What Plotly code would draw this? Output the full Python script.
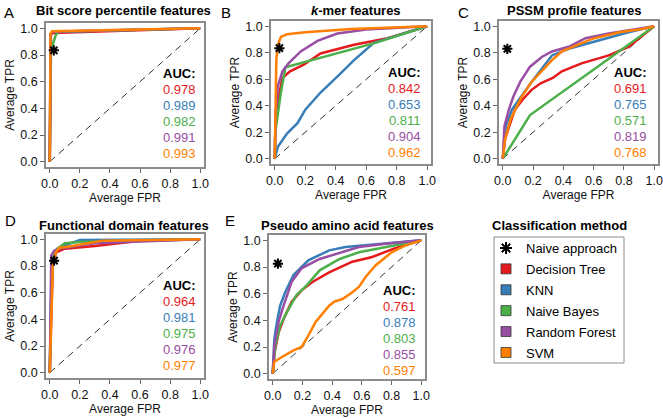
import plotly.graph_objects as go

# ---------------- data ----------------
methods = ["Decision Tree", "KNN", "Naive Bayes", "Random Forest", "SVM"]
colors = ["#E41A1C", "#377EB8", "#4DAF4A", "#984EA3", "#FF7F00"]

panel_titles = ["Bit score percentile features", "<i>k</i>-mer features", "PSSM profile features",
                "Functional domain features", "Pseudo amino acid features"]
panel_letters = ["A", "B", "C", "D", "E"]

auc_A = ["0.978", "0.989", "0.982", "0.991", "0.993"]
auc_B = ["0.842", "0.653", "0.811", "0.904", "0.962"]
auc_C = ["0.691", "0.765", "0.571", "0.819", "0.768"]
auc_D = ["0.964", "0.981", "0.975", "0.976", "0.977"]
auc_E = ["0.761", "0.878", "0.803", "0.855", "0.597"]

# naive approach point (FPR, TPR) per panel
naive_fpr = [0.027, 0.03, 0.03, 0.029, 0.035]
naive_tpr = [0.835, 0.835, 0.83, 0.84, 0.825]

# Panel A ROC curves
A_dt_x = [0, 0.008, 0.02, 1]; A_dt_y = [0, 0.95, 0.965, 1]
A_knn_x = [0, 0.006, 0.02, 1]; A_knn_y = [0, 0.96, 0.975, 1]
A_nb_x = [0, 0.008, 0.02, 0.04, 0.06, 1]; A_nb_y = [0, 0.82, 0.88, 0.95, 0.975, 1]
A_rf_x = [0, 0.006, 0.02, 1]; A_rf_y = [0, 0.96, 0.975, 1]
A_svm_x = [0, 0.005, 0.015, 0.3, 1]; A_svm_y = [0, 0.96, 0.978, 0.985, 1]

# Panel B
B_dt_x = [0, 0.005, 0.05, 0.1, 0.19, 0.3, 0.52, 0.74, 1]
B_dt_y = [0, 0.34, 0.61, 0.66, 0.71, 0.795, 0.86, 0.91, 1]
B_knn_x = [0, 0.02, 0.08, 0.15, 0.2, 0.3, 0.41, 0.52, 0.65, 1]
B_knn_y = [0, 0.09, 0.19, 0.27, 0.37, 0.5, 0.62, 0.745, 0.875, 1]
B_nb_x = [0, 0.003, 0.04, 0.07, 0.66, 1]
B_nb_y = [0, 0.2, 0.5, 0.69, 0.875, 1]
B_rf_x = [0, 0.005, 0.02, 0.05, 0.09, 0.17, 0.28, 0.41, 0.6, 1]
B_rf_y = [0, 0.35, 0.55, 0.66, 0.72, 0.81, 0.89, 0.945, 0.975, 1]
B_svm_x = [0, 0.005, 0.01, 0.02, 0.04, 0.08, 0.2, 0.5, 1]
B_svm_y = [0, 0.5, 0.75, 0.86, 0.92, 0.94, 0.955, 0.98, 1]

# Panel C
C_dt_x = [0, 0.015, 0.05, 0.08, 0.13, 0.19, 0.25, 0.33, 0.39, 0.52, 0.7, 0.83, 1]
C_dt_y = [0, 0.15, 0.27, 0.37, 0.445, 0.52, 0.57, 0.61, 0.66, 0.72, 0.78, 0.845, 1]
C_knn_x = [0, 0.02, 0.06, 0.126, 0.19, 0.325, 0.435, 0.59, 0.83, 1]
C_knn_y = [0, 0.245, 0.37, 0.48, 0.58, 0.78, 0.83, 0.88, 0.955, 1]
C_nb_x = [0, 0.18, 1]
C_nb_y = [0, 0.33, 1]
C_rf_x = [0, 0.011, 0.04, 0.07, 0.115, 0.18, 0.26, 0.325, 0.435, 0.546, 0.7, 0.856, 1]
C_rf_y = [0, 0.245, 0.37, 0.47, 0.58, 0.695, 0.77, 0.81, 0.845, 0.91, 0.945, 0.975, 1]
C_svm_x = [0, 0.015, 0.05, 0.126, 0.19, 0.325, 0.39, 0.52, 0.59, 0.77, 0.92, 1]
C_svm_y = [0, 0.145, 0.295, 0.47, 0.58, 0.745, 0.81, 0.87, 0.905, 0.955, 0.98, 1]

# Panel D
D_dt_x = [0, 0.01, 0.02, 0.04, 0.1, 0.3, 0.45, 0.6, 1]
D_dt_y = [0, 0.5, 0.8, 0.9, 0.93, 0.95, 0.97, 0.99, 1]
D_knn_x = [0, 0.01, 0.02, 0.05, 0.1, 0.2, 1]
D_knn_y = [0, 0.6, 0.85, 0.93, 0.955, 0.995, 1]
D_nb_x = [0, 0.01, 0.02, 0.04, 0.1, 0.2, 1]
D_nb_y = [0, 0.6, 0.85, 0.92, 0.97, 0.98, 1]
D_rf_x = [0, 0.005, 0.01, 0.03, 0.06, 0.3, 1]
D_rf_y = [0, 0.6, 0.88, 0.915, 0.93, 0.97, 1]
D_svm_x = [0, 0.01, 0.02, 0.04, 0.06, 0.15, 0.35, 1]
D_svm_y = [0, 0.5, 0.8, 0.9, 0.935, 0.95, 0.99, 1]

# Panel E
E_dt_x = [0, 0.013, 0.04, 0.073, 0.128, 0.194, 0.27, 0.38, 0.536, 0.67, 0.82, 1]
E_dt_y = [0, 0.16, 0.31, 0.41, 0.54, 0.625, 0.69, 0.76, 0.84, 0.875, 0.94, 1]
E_knn_x = [0, 0.011, 0.029, 0.05, 0.084, 0.14, 0.24, 0.38, 0.49, 0.76, 1]
E_knn_y = [0, 0.26, 0.39, 0.51, 0.61, 0.74, 0.85, 0.925, 0.95, 0.975, 1]
E_nb_x = [0, 0.018, 0.05, 0.095, 0.16, 0.227, 0.316, 0.45, 0.58, 0.76, 1]
E_nb_y = [0, 0.21, 0.36, 0.46, 0.59, 0.66, 0.775, 0.86, 0.91, 0.95, 1]
E_rf_x = [0, 0.011, 0.04, 0.073, 0.128, 0.194, 0.316, 0.43, 0.58, 0.76, 1]
E_rf_y = [0, 0.21, 0.39, 0.51, 0.69, 0.79, 0.86, 0.9, 0.95, 0.975, 1]
E_svm_x = [0, 0.011, 0.062, 0.14, 0.194, 0.227, 0.29, 0.38, 0.415, 0.47, 0.536, 0.58, 0.625, 0.69, 0.8, 0.89, 1]
E_svm_y = [0, 0.09, 0.125, 0.175, 0.2, 0.26, 0.39, 0.51, 0.54, 0.56, 0.61, 0.65, 0.725, 0.81, 0.91, 0.96, 1]

tick_vals = [0, 0.2, 0.4, 0.6, 0.8, 1.0]
tick_text = ["0.0", "0.2", "0.4", "0.6", "0.8", "1.0"]

panels = [
    dict(curves=[(A_dt_x, A_dt_y), (A_knn_x, A_knn_y), (A_nb_x, A_nb_y), (A_rf_x, A_rf_y), (A_svm_x, A_svm_y)], auc=auc_A),
    dict(curves=[(B_dt_x, B_dt_y), (B_knn_x, B_knn_y), (B_nb_x, B_nb_y), (B_rf_x, B_rf_y), (B_svm_x, B_svm_y)], auc=auc_B),
    dict(curves=[(C_dt_x, C_dt_y), (C_knn_x, C_knn_y), (C_nb_x, C_nb_y), (C_rf_x, C_rf_y), (C_svm_x, C_svm_y)], auc=auc_C),
    dict(curves=[(D_dt_x, D_dt_y), (D_knn_x, D_knn_y), (D_nb_x, D_nb_y), (D_rf_x, D_rf_y), (D_svm_x, D_svm_y)], auc=auc_D),
    dict(curves=[(E_dt_x, E_dt_y), (E_knn_x, E_knn_y), (E_nb_x, E_nb_y), (E_rf_x, E_rf_y), (E_svm_x, E_svm_y)], auc=auc_E),
]

# ---------------- layout geometry (pixels) ----------------
W, H = 663, 419
boxes = [(46, 204, 23, 167), (271, 431, 21, 164), (499, 658, 21, 164),
         (46, 204, 234, 378), (269, 425, 235, 379)]
title_pos = [(123, 11), (356, 11), (574, 11), (124, 225), (347, 225)]
letter_pos = [(9, 12), (226, 12), (463, 12), (10, 220), (230, 220)]
auc_x = [0.985, 0.975, 0.965, 0.985, 0.975]
auc_y0 = [0.665, 0.65, 0.65, 0.655, 0.625]
auc_step = 0.12

FONT = "Liberation Sans, Arial, sans-serif"

fig = go.Figure()
annotations = []
shapes = []

for i, p in enumerate(panels):
    ax = "" if i == 0 else str(i + 1)
    xa, ya = "x" + ax, "y" + ax
    fig.add_trace(go.Scatter(x=[0, 1], y=[0, 1], mode="lines", xaxis=xa, yaxis=ya,
                             line=dict(color="#333333", width=1, dash="7px,5px"),
                             showlegend=False, hoverinfo="skip"))
    for (cx, cy), c, m in zip(p["curves"], colors, methods):
        fig.add_trace(go.Scatter(x=cx, y=cy, mode="lines", xaxis=xa, yaxis=ya, name=m,
                                 line=dict(color=c, width=2.5), showlegend=False))
    fig.add_trace(go.Scatter(x=[naive_fpr[i]], y=[naive_tpr[i]], mode="markers", xaxis=xa, yaxis=ya,
                             name="Naive approach",
                             marker=dict(symbol="asterisk-open", size=8.5, color="black",
                                         line=dict(color="black", width=2)),
                             showlegend=False))
    l, r, t, b = boxes[i]
    dom_x = [l / W, r / W]
    dom_y = [1 - b / H, 1 - t / H]
    axis_common = dict(tickvals=tick_vals, ticktext=tick_text, ticks="outside",
                       ticklen=4, tickwidth=1, tickcolor="#666666", showline=True,
                       linecolor="#8c8c8c", linewidth=1.5, mirror=True, showgrid=False,
                       zeroline=False, automargin=False,
                       tickfont=dict(size=12.5, color="#111111", family=FONT))
    xkw = dict(axis_common, domain=dom_x, range=[-0.025, 1.025], anchor=ya,
               title=dict(text="Average FPR", font=dict(size=12, color="#111111", family=FONT), standoff=2))
    ykw = dict(axis_common, domain=dom_y, range=[-0.04, 1.04], anchor=xa,
               title=dict(text="Average TPR", font=dict(size=12, color="#111111", family=FONT), standoff=3))
    fig.update_layout(**{"xaxis" + ax: xkw, "yaxis" + ax: ykw})

    tx, ty = title_pos[i]
    annotations.append(dict(text="<b>" + panel_titles[i] + "</b>", x=tx / W, y=1 - ty / H, xref="paper", yref="paper",
                            showarrow=False, xanchor="center", yanchor="middle",
                            font=dict(size=13, color="black", family=FONT)))
    lx, ly = letter_pos[i]
    annotations.append(dict(text=panel_letters[i], x=lx / W, y=1 - ly / H, xref="paper", yref="paper",
                            showarrow=False, xanchor="center", yanchor="middle",
                            font=dict(size=15, color="black", family=FONT)))
    annotations.append(dict(text="<b>AUC:</b>", x=auc_x[i], y=auc_y0[i], xref=xa, yref=ya, showarrow=False,
                            xanchor="right", yanchor="middle", font=dict(size=13, color="black", family=FONT)))
    for k, (v, c) in enumerate(zip(p["auc"], colors)):
        annotations.append(dict(text=v, x=auc_x[i], y=auc_y0[i] - auc_step * (k + 1), xref=xa, yref=ya,
                                showarrow=False, xanchor="right", yanchor="middle",
                                font=dict(size=13, color=c, family=FONT)))

# legend entries
fig.add_trace(go.Scatter(x=[None], y=[None], mode="markers", name="Naive approach", legendgroup="g0",
                         marker=dict(symbol="asterisk-open", size=10, color="black",
                                     line=dict(color="black", width=2))))
for j, (c, m) in enumerate(zip(colors, methods)):
    fig.add_trace(go.Scatter(x=[None], y=[None], mode="markers", name=m, legendgroup="g%d" % (j + 1),
                             marker=dict(symbol="square", size=10, color=c,
                                         line=dict(color="#333333", width=0.8))))

annotations.append(dict(text="<b>Classification method</b>", x=559 / W, y=1 - 225 / H, xref="paper", yref="paper",
                        showarrow=False, xanchor="center", yanchor="middle",
                        font=dict(size=13, color="black", family=FONT)))
shapes.append(dict(type="rect", xref="paper", yref="paper", x0=494 / W, x1=624 / W,
                   y0=1 - 363 / H, y1=1 - 237 / H, line=dict(color="#8c8c8c", width=1)))

fig.update_layout(
    width=W, height=H, margin=dict(l=0, r=0, t=0, b=0),
    paper_bgcolor="white", plot_bgcolor="white",
    font=dict(family=FONT, color="black"),
    annotations=annotations, shapes=shapes,
    showlegend=True,
    legend=dict(x=486 / W, y=1 - 233 / H, xanchor="left", yanchor="top",
                borderwidth=0, bgcolor="rgba(0,0,0,0)",
                font=dict(size=13, color="black", family=FONT), itemwidth=30,
                traceorder="grouped", tracegroupgap=1),
)

fig.write_html("out.html", config={"displayModeBar": False},
               post_script="document.body.style.margin='0';document.body.style.padding='0';"
                           "document.body.style.overflow='hidden';")
